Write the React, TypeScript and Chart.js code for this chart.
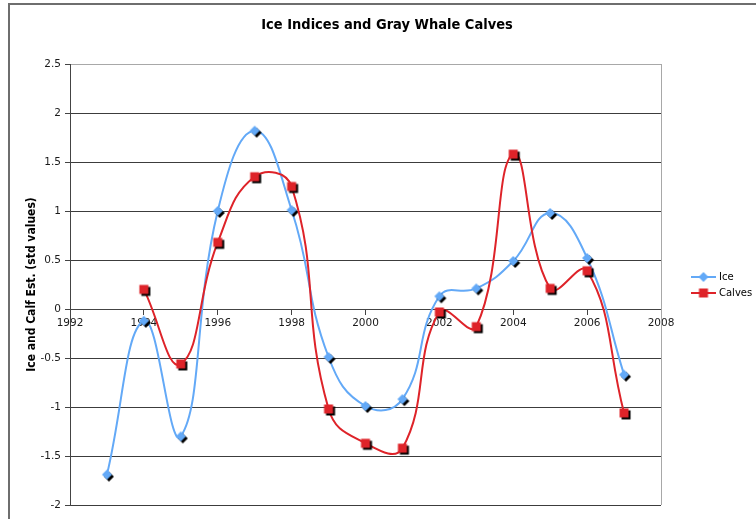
import React, { useEffect, useRef } from "react";
import { Chart, registerables } from "chart.js";
Chart.register(...registerables);

const titleText = "Ice Indices and Gray Whale Calves";
const yAxisTitle = "Ice and Calf Est. (std values)";
const seriesLabels = ["Ice", "Calves"];

const iceYears = [1993, 1994, 1995, 1996, 1997, 1998, 1999, 2000, 2001, 2002, 2003, 2004, 2005, 2006, 2007];
const iceValues = [-1.69, -0.12, -1.3, 1.0, 1.82, 1.01, -0.49, -0.99, -0.92, 0.13, 0.21, 0.49, 0.98, 0.52, -0.67];

const calfYears = [1994, 1995, 1996, 1997, 1998, 1999, 2000, 2001, 2002, 2003, 2004, 2005, 2006, 2007];
const calfValues = [0.2, -0.56, 0.68, 1.35, 1.25, -1.02, -1.37, -1.42, -0.03, -0.18, 1.58, 0.21, 0.39, -1.06];

const xMin = 1992;
const xMax = 2008;
const xStep = 2;
const yMin = -2;
const yMax = 2.5;
const yStep = 0.5;

const ICE_COLOR = "#63a9f7";
const CALF_COLOR = "#de2329";
const FONT = '"DejaVu Sans", Verdana, sans-serif';
const FONT_COND = '"DejaVu Sans Condensed", "DejaVu Sans", sans-serif';

function makeMarker(shape: "diamond" | "square", color: string, shadow: boolean) {
  const c = document.createElement("canvas");
  c.width = 18;
  c.height = 18;
  const g = c.getContext("2d")!;
  const cx = 9, cy = 9;
  const path = (dx: number, dy: number) => {
    g.beginPath();
    if (shape === "diamond") {
      const r = 5;
      g.moveTo(cx + dx, cy - r + dy);
      g.lineTo(cx + r + dx, cy + dy);
      g.lineTo(cx + dx, cy + r + dy);
      g.lineTo(cx - r + dx, cy + dy);
      g.closePath();
    } else {
      const r = 4.5;
      g.rect(cx - r + dx, cy - r + dy, 2 * r, 2 * r);
    }
  };
  if (shadow) {
    path(2, 2);
    g.fillStyle = "#000";
    g.fill();
  }
  path(0, 0);
  g.fillStyle = color;
  g.fill();
  return c;
}

export default function App() {
  const ref = useRef<HTMLCanvasElement | null>(null);

  useEffect(() => {
    const canvas = ref.current;
    if (!canvas) return;
    const iceMarker = makeMarker("diamond", ICE_COLOR, true);
    const calfMarker = makeMarker("square", CALF_COLOR, true);
    const iceLegendMarker = makeMarker("diamond", ICE_COLOR, false);
    const calfLegendMarker = makeMarker("square", CALF_COLOR, false);

    const decor = {
      id: "decor",
      beforeDatasetsDraw(chart: any) {
        const { ctx, chartArea: a } = chart;
        ctx.save();
        ctx.strokeStyle = "#a8a8a8";
        ctx.lineWidth = 1;
        ctx.beginPath();
        const x = Math.round(a.right) + 0.5;
        ctx.moveTo(x, a.top);
        ctx.lineTo(x, a.bottom);
        ctx.stroke();
        ctx.restore();
      },
      afterDraw(chart: any) {
        const { ctx } = chart;
        ctx.save();
        ctx.fillStyle = "#000";
        ctx.font = "bold 14.5px " + FONT_COND;
        ctx.textAlign = "center";
        ctx.textBaseline = "middle";
        ctx.fillText(titleText, 377, 20);

        const items = [
          { label: seriesLabels[0], color: ICE_COLOR, marker: iceLegendMarker, y: 272 },
          { label: seriesLabels[1], color: CALF_COLOR, marker: calfLegendMarker, y: 288 },
        ];
        ctx.font = "10px " + FONT;
        ctx.textAlign = "left";
        items.forEach((it) => {
          ctx.strokeStyle = it.color;
          ctx.lineWidth = 2;
          ctx.beginPath();
          ctx.moveTo(681, it.y);
          ctx.lineTo(706, it.y);
          ctx.stroke();
          ctx.drawImage(it.marker, 693.5 - 9, it.y - 9);
          ctx.fillStyle = "#000";
          ctx.fillText(it.label, 709, it.y);
        });
        ctx.restore();
      },
    };

    const chart = new Chart(canvas, {
      type: "line",
      data: {
        datasets: [
          {
            label: seriesLabels[0],
            data: iceYears.map((x, i) => ({ x, y: iceValues[i] })),
            borderColor: ICE_COLOR,
            backgroundColor: ICE_COLOR,
            borderWidth: 2,
            tension: 0.45,
            pointStyle: iceMarker as any,
            pointRadius: 5,
            fill: false,
            order: 2,
          },
          {
            label: seriesLabels[1],
            data: calfYears.map((x, i) => ({ x, y: calfValues[i] })),
            borderColor: CALF_COLOR,
            backgroundColor: CALF_COLOR,
            borderWidth: 2,
            tension: 0.45,
            pointStyle: calfMarker as any,
            pointRadius: 5,
            fill: false,
            order: 1,
          },
        ],
      },
      options: {
        responsive: false,
        animation: false,
        devicePixelRatio: 1,
        layout: { padding: { top: 59, left: 9, right: 103, bottom: 30 } },
        plugins: {
          legend: { display: false },
          title: { display: false },
          tooltip: { enabled: false },
        },
        scales: {
          x: {
            type: "linear",
            position: { y: 0 } as any,
            min: xMin,
            max: xMax,
            ticks: {
              stepSize: xStep,
              autoSkip: false,
              maxRotation: 0,
              padding: 3,
              color: "#1a1a1a",
              font: { family: FONT, size: 10.5 },
              callback: (v: any) => String(v),
            },
            grid: {
              display: true,
              drawOnChartArea: false,
              drawTicks: true,
              tickLength: 5,
              tickColor: "#444",
            },
            border: { display: true, color: "#444", width: 1 },
            afterFit: (s: any) => {
              s.height = 0;
            },
          },
          y: {
            type: "linear",
            min: yMin,
            max: yMax,
            ticks: {
              stepSize: yStep,
              padding: 4,
              color: "#1a1a1a",
              font: { family: FONT, size: 10.5 },
              callback: (v: any) => String(v),
            },
            grid: {
              color: (c: any) => (c.tick && c.tick.value === yMax ? "#a8a8a8" : "#3c3c3c"),
              lineWidth: 1,
              tickLength: 5,
              tickColor: "#444",
            },
            border: { display: true, color: "#444", width: 1 },
            title: {
              display: true,
              text: yAxisTitle,
              color: "#000",
              font: { family: FONT_COND, size: 12, weight: "bold" },
              padding: { top: 6, bottom: 0 },
            },
            afterFit: (s: any) => {
              s.width = 51;
            },
          },
        },
      },
      plugins: [decor],
    });
    return () => chart.destroy();
  }, []);

  return (
    <div
      style={{
        position: "fixed",
        left: 0,
        top: 0,
        width: 756,
        height: 519,
        overflow: "hidden",
        background: "#fff",
      }}
    >
      <div
        style={{
          position: "absolute",
          left: 8,
          top: 3,
          width: 758,
          height: 534,
          border: "2px solid #6e6e6e",
          boxSizing: "border-box",
          background: "#fff",
        }}
      >
        <canvas ref={ref} width={754} height={530} style={{ display: "block", width: 754, height: 530 }} />
      </div>
    </div>
  );
}
